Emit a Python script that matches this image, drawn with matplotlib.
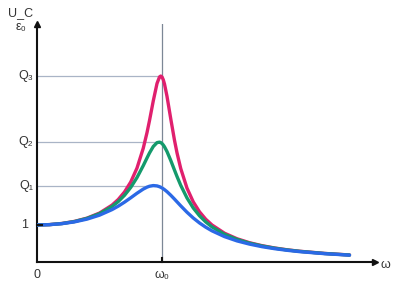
import matplotlib
matplotlib.use('Agg')
import matplotlib.pyplot as plt

plt.rcParams['font.family'] = ['Liberation Sans', 'DejaVu Sans']

# frequency ratio omega/omega0 and U_C/eps0
w = [0, 0.1, 0.2, 0.3, 0.4, 0.5, 0.6, 0.65, 0.7, 0.75, 0.8, 0.85, 0.88, 0.9, 0.93,
     0.96, 0.98, 0.99, 1.0, 1.01, 1.02, 1.04, 1.07, 1.1, 1.12, 1.15, 1.2, 1.25, 1.3, 1.35,
     1.4, 1.5, 1.6, 1.7, 1.8, 1.9, 2.0, 2.1, 2.3, 2.5]
u_high = [1.0, 1.010, 1.041, 1.097, 1.185, 1.322, 1.536, 1.689, 1.891, 2.162, 2.538, 3.073, 3.495, 3.821, 4.35,
          4.822, 5.0, 5.024, 5.0, 4.926, 4.809, 4.476, 3.869, 3.288, 2.950, 2.524, 1.995, 1.625, 1.356, 1.155,
          1.0, 0.778, 0.628, 0.521, 0.441, 0.379, 0.330, 0.291, 0.232, 0.19]
u_mid = [1.0, 1.010, 1.039, 1.093, 1.178, 1.305, 1.499, 1.633, 1.802, 2.015, 2.282, 2.603, 2.811, 2.946, 3.12,
         3.225, 3.238, 3.226, 3.2, 3.162, 3.112, 2.984, 2.744, 2.482, 2.311, 2.071, 1.73, 1.46, 1.249, 1.082,
         0.948, 0.749, 0.61, 0.509, 0.433, 0.374, 0.326, 0.288, 0.23, 0.188]
u_low = [1.0, 1.009, 1.036, 1.084, 1.158, 1.265, 1.415, 1.509, 1.617, 1.735, 1.858, 1.97, 2.022, 2.047, 2.065,
         2.056, 2.034, 2.019, 2.0, 1.979, 1.955, 1.9, 1.804, 1.699, 1.626, 1.517, 1.344, 1.189, 1.055, 0.94,
         0.842, 0.686, 0.57, 0.483, 0.414, 0.36, 0.316, 0.28, 0.225, 0.185]

peaks = [5.03, 3.24, 2.065]
peak_labels = ['Q\u2083', 'Q\u2082', 'Q\u2081']

fig = plt.figure(figsize=(4, 3), dpi=100)
ax = fig.add_axes([37/400, 38/300, (375-37)/400, (262-24)/300])
ax.set_xlim(0, 2.704)
ax.set_ylim(0, 6.43)

# guide lines
ax.axvline(1.0, color='#7c8796', lw=0.9, zorder=1)
for p in peaks:
    ax.plot([0, 1.0], [p, p], color='#a9b4c6', lw=0.9, zorder=1)

kw = dict(lw=2.4, solid_joinstyle='round', solid_capstyle='round')
ax.plot(w, u_high, color='#e0206e', zorder=3, **kw)
ax.plot(w, u_mid, color='#149a6c', zorder=4, **kw)
ax.plot(w, u_low, color='#2b69e6', zorder=5, **kw)

for s in ['top', 'right']:
    ax.spines[s].set_visible(False)
for s in ['left', 'bottom']:
    ax.spines[s].set_linewidth(1.5)
    ax.spines[s].set_color('#111111')
ax.set_xticks([])
ax.set_yticks([])

# arrow heads
ax.plot(1, 0, '>', color='#111111', ms=4, transform=ax.transAxes, clip_on=False)
ax.plot(0, 1, '^', color='#111111', ms=4, transform=ax.transAxes, clip_on=False)
# small ticks
ax.plot([0, 0.04], [1, 1], color='#111111', lw=1.5, clip_on=False, zorder=6)
ax.plot([1, 1], [0, 0.1], color='#111111', lw=1.5, clip_on=False, zorder=6)

fs = 9
ax.text(-0.07, 1, '1', ha='right', va='center', fontsize=fs, color='#333333')
for p, lab in zip(peaks, peak_labels):
    ax.text(-0.03, p, lab, ha='right', va='center', fontsize=fs, color='#333333')
ax.text(0, -0.35, '0', ha='center', va='center', fontsize=fs, color='#333333')
ax.text(1.0, -0.35, '\u03c9\u2080', ha='center', va='center', fontsize=fs, color='#333333')
fig.text(385/400, 1-265/300, '\u03c9', ha='center', va='center', fontsize=fs, color='#333333')
fig.text(21/400, 1-13/300, 'U_C', ha='center', va='center', fontsize=fs, color='#333333')
fig.text(21/400, 1-27/300, '\u03b5\u2080', ha='center', va='center', fontsize=fs, color='#333333')

fig.savefig('out.png', dpi=100)
